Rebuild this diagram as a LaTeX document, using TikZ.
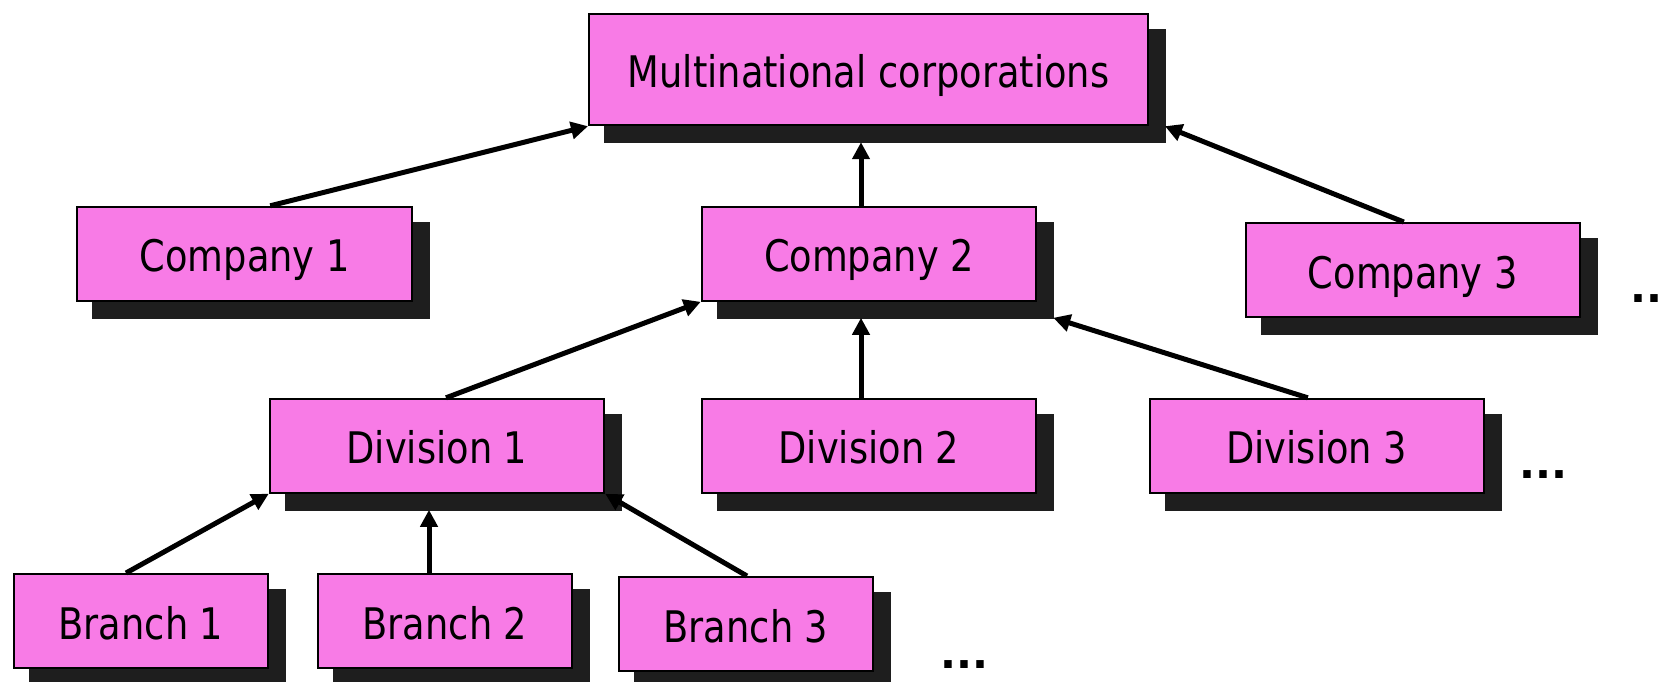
\documentclass[tikz,border=0pt]{standalone}
\usepackage{fontspec}
\setmainfont{DejaVu Sans}[FakeStretch=0.845]
\newfontfamily\dotfont{DejaVu Sans}
\usetikzlibrary{arrows.meta,backgrounds}
\definecolor{boxpink}{RGB}{248,123,230}
\definecolor{shadowc}{RGB}{30,30,30}
\begin{document}
\begin{tikzpicture}[x=1pt,y=-1pt,
  font=\fontsize{43.5}{52}\selectfont,
  box/.style={draw=black, line width=2pt, fill=boxpink, inner sep=0pt,
    text height=36pt, text depth=0pt, minimum height=94pt},
  wide/.style={minimum width=334.5pt},
  narrow/.style={minimum width=254pt},
  arr/.style={line width=5pt, -{Triangle[length=17pt,width=17pt]}},
  dots/.style={anchor=base west, inner sep=0pt, font=\dotfont\bfseries\fontsize{42}{50}\selectfont}]
\useasboundingbox (0,0) rectangle (1665,681);
% boxes
\node[box, minimum width=559pt, minimum height=111pt] (mc) at (868.5,69.7) {Multinational corporations};
\node[box,wide] (c1) at (244.7,253.8) {Company 1};
\node[box,wide] (c2) at (869,253.8) {Company 2};
\node[box,wide] (c3) at (1412.8,270) {Company 3};
\node[box,wide] (d1) at (437,445.8) {Division 1};
\node[box,wide] (d2) at (869,445.8) {Division 2};
\node[box,wide] (d3) at (1316.8,445.8) {Division 3};
\node[box,narrow] (b1) at (141,621) {Branch 1};
\node[box,narrow] (b2) at (445,621) {Branch 2};
\node[box,narrow] (b3) at (746,624) {Branch 3};
% shadows
\begin{scope}[on background layer]
\foreach \n in {mc,c1,c2,c3,d1,d2,d3,b1,b2,b3}
  \fill[shadowc] ([shift={(16pt,-16pt)}]\n.north west) rectangle ([shift={(17pt,-17pt)}]\n.south east);
\end{scope}
% ellipses
\node[dots] (e1) at (1630,302) {..};
\node[dots] (e2) at (1519,478) {...};
\node[dots] (e3) at (940,668) {...};
% helper coordinates
\coordinate (c1top) at ([xshift=25.5pt]c1.north);
\coordinate (c2top) at ([xshift=-8pt]c2.north);
\coordinate (c3top) at ([xshift=-9pt]c3.north);
\coordinate (d1top) at ([xshift=9pt]d1.north);
\coordinate (d2top) at ([xshift=-8pt]d2.north);
\coordinate (d3top) at ([xshift=-9pt]d3.north);
\coordinate (b1top) at ([xshift=-15pt]b1.north);
\coordinate (b2top) at ([xshift=-16pt]b2.north);
\coordinate (b3top) at ([xshift=1pt]b3.north);
\coordinate (mcsb) at ([yshift=-16pt]mc.south);
\coordinate (mcse) at ([xshift=16pt]mc.south east);
\coordinate (c2sb) at ([yshift=-16pt]c2.south);
\coordinate (c2se) at ([shift={(16pt,-16pt)}]c2.south east);
\coordinate (d1sb) at ([yshift=-16pt]d1.south);
% connectors
\draw[arr] (c1top) -- (mc.south west);
\draw[arr] (c2top) -- (c2top |- mcsb);
\draw[arr] (c3top) -- (mcse);
\draw[arr] (d1top) -- (c2.south west);
\draw[arr] (d2top) -- (d2top |- c2sb);
\draw[arr] (d3top) -- (c2se);
\draw[arr] (b1top) -- (d1.south west);
\draw[arr] (b2top) -- (b2top |- d1sb);
\draw[arr] (b3top) -- (d1.south east);
\end{tikzpicture}
\end{document}
